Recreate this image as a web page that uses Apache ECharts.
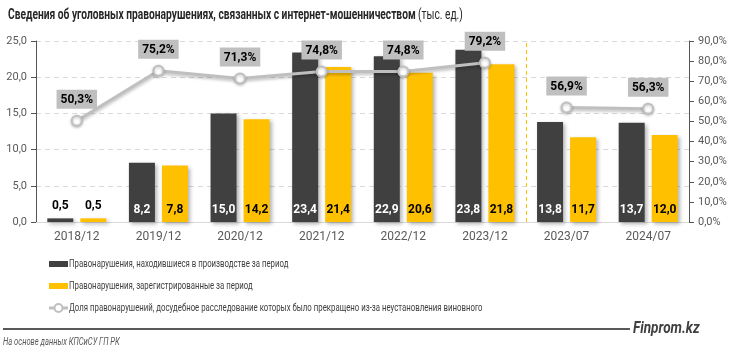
<!DOCTYPE html>
<html>
<head>
<meta charset="utf-8">
<script src="https://cdn.jsdelivr.net/npm/echarts@6/dist/echarts.min.js"></script>
<style>
  html, body { margin: 0; padding: 0; background: #fff; }
  #chart { width: 731px; height: 353px; }
</style>
</head>
<body>
<div id="chart"></div>
<script>
const categories = ["2018/12", "2019/12", "2020/12", "2021/12", "2022/12", "2023/12", "2023/07", "2024/07"];
const inProduction = [0.5, 8.2, 15.0, 23.4, 22.9, 23.8, 13.8, 13.7];
const registered = [0.5, 7.8, 14.2, 21.4, 20.6, 21.8, 11.7, 12.0];
const unsolvedShare = [50.3, 75.2, 71.3, 74.8, 74.8, 79.2, 56.9, 56.3];

const nameProd = "Правонарушения, находившиеся в производстве за период";
const nameReg = "Правонарушения, зарегистрированные за период";
const nameShare = "Доля правонарушений, досудебное расследование которых было прекращено из-за неустановления виновного";

const FONT = "Roboto, sans-serif";
const comma = v => v.toFixed(1).replace(".", ",");

// tiny bars get their label above the bar
function barData(arr) {
  return arr.map(v => v < 2 ? { value: v, label: { position: "top", color: "#000" } } : v);
}

// line is broken between 2023/12 and 2023/07
const shareYear = unsolvedShare.map((v, i) => i < 6 ? v : "-");
const shareHalf = unsolvedShare.map((v, i) => i >= 6 ? v : "-");

function lineSeries(name, data) {
  return {
    name: name,
    type: "line",
    yAxisIndex: 1,
    data: data,
    z: 5,
    symbol: "circle",
    symbolSize: 10,
    lineStyle: {
      width: 3,
      color: "#BFBFBF",
      shadowColor: "rgba(0,0,0,0.25)",
      shadowBlur: 3,
      shadowOffsetY: 2
    },
    itemStyle: {
      color: "#fff",
      borderColor: "#BFBFBF",
      borderWidth: 2,
      shadowColor: "rgba(0,0,0,0.25)",
      shadowBlur: 3,
      shadowOffsetY: 1
    },
    label: {
      show: true,
      position: "top",
      distance: 6,
      formatter: p => comma(p.value) + "%",
      backgroundColor: "#BFBFBF",
      padding: [4, 4, 3, 4],
      color: "#000",
      fontWeight: "bold",
      fontSize: 12,
      fontFamily: FONT
    }
  };
}

const barShadow = {
  shadowColor: "rgba(0,0,0,0.3)",
  shadowBlur: 4,
  shadowOffsetX: 2,
  shadowOffsetY: 2
};

const barLabel = (color) => ({
  show: true,
  position: "insideBottom",
  distance: 6,
  color: color,
  fontWeight: "bold",
  fontSize: 12,
  fontFamily: FONT,
  formatter: p => comma(p.value)
});

// hand-made legend so the text can be squeezed like the original condensed face
const legendRows = [
  { name: nameProd, y: 264, color: "#404040" },
  { name: nameReg, y: 286, color: "#FFC000" },
  { name: nameShare, y: 308, line: true }
];
const legendGraphics = [];
legendRows.forEach(row => {
  if (row.line) {
    legendGraphics.push({
      type: "line",
      shape: { x1: 49, y1: row.y, x2: 68, y2: row.y },
      style: { stroke: "#BFBFBF", lineWidth: 3 }
    });
    legendGraphics.push({
      type: "circle",
      shape: { cx: 58.5, cy: row.y, r: 4 },
      style: { fill: "#fff", stroke: "#BFBFBF", lineWidth: 2 }
    });
  } else {
    legendGraphics.push({
      type: "rect",
      shape: { x: 49, y: row.y - 3, width: 19, height: 6 },
      style: { fill: row.color }
    });
  }
  legendGraphics.push({
    type: "text",
    x: 69,
    y: row.y,
    scaleX: 0.71,
    style: {
      text: row.name,
      font: "11px " + FONT,
      fill: "#404040",
      verticalAlign: "middle"
    }
  });
});

const myChart = echarts.init(document.getElementById("chart"));
myChart.setOption({
  animation: false,
  textStyle: { fontFamily: FONT },
  grid: { left: 36, right: 42, top: 41, bottom: 131 },
  xAxis: [
    {
      type: "category",
      data: categories,
      axisTick: { show: false },
      axisLine: { lineStyle: { color: "#D9D9D9", width: 1 } },
      axisLabel: { color: "#595959", fontSize: 12, margin: 9 },
      splitLine: { show: false }
    },
    {
      // helper axis for the dashed divider between yearly and half-year data
      type: "value",
      min: 0,
      max: categories.length,
      show: false
    }
  ],
  yAxis: [
    {
      type: "value",
      min: 0,
      max: 25,
      interval: 5,
      axisLabel: { color: "#595959", fontSize: 11, margin: 9, formatter: v => comma(v) },
      splitLine: { lineStyle: { color: "#D9D9D9", type: [5, 4] } }
    },
    {
      type: "value",
      min: 0,
      max: 90,
      interval: 10,
      axisLabel: { color: "#595959", fontSize: 11, margin: 9, formatter: v => comma(v) + "%" },
      splitLine: { show: false }
    }
  ],
  series: [
    {
      name: nameProd,
      type: "bar",
      barWidth: 26,
      barGap: "27%",
      data: barData(inProduction),
      itemStyle: Object.assign({ color: "#404040" }, barShadow),
      label: barLabel("#fff")
    },
    {
      name: nameReg,
      type: "bar",
      barWidth: 26,
      data: barData(registered),
      itemStyle: Object.assign({ color: "#FFC000" }, barShadow),
      label: barLabel("#000")
    },
    lineSeries(nameShare, shareYear),
    lineSeries(nameShare + " ", shareHalf),
    {
      type: "line",
      xAxisIndex: 1,
      yAxisIndex: 0,
      data: [],
      silent: true,
      markLine: {
        symbol: "none",
        silent: true,
        label: { show: false },
        lineStyle: { color: "#FFC000", type: [4, 3], width: 1 },
        data: [{ xAxis: 6 }]
      }
    }
  ],
  graphic: [
    {
      type: "text",
      x: 8,
      y: 15,
      scaleX: 0.73,
      style: {
        text: "{b|Сведения об уголовных правонарушениях, связанных с интернет-мошенничеством} {n|(тыс. ед.)}",
        verticalAlign: "middle",
        rich: {
          b: { font: "bold 14px " + FONT, fill: "#262626" },
          n: { font: "14px " + FONT, fill: "#262626" }
        }
      }
    },
    {
      type: "line",
      shape: { x1: 3, y1: 329, x2: 630, y2: 329 },
      style: { stroke: "#595959", lineWidth: 2 }
    },
    {
      type: "text",
      x: 633,
      y: 329,
      scaleX: 0.85,
      style: { text: "Finprom.kz", font: "italic bold 16px " + FONT, fill: "#404040", verticalAlign: "middle" }
    },
    {
      type: "text",
      x: 3,
      y: 342,
      scaleX: 0.69,
      style: { text: "На основе данных КПСиСУ ГП РК", font: "italic 11px " + FONT, fill: "#595959", verticalAlign: "middle" }
    }
  ].concat(legendGraphics)
});
</script>
</body>
</html>
